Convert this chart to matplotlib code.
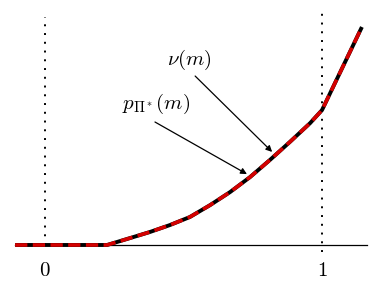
import numpy as np
import matplotlib.pyplot as plt

plt.rcParams['mathtext.fontset'] = 'cm'

# curve (x in units of m, same scale on y)
m = [-0.108, 0.224, 0.307, 0.379, 0.451, 0.523, 0.596, 0.668, 0.740,
     0.812, 0.884, 0.957, 1.0, 1.144]
v = [0.0, 0.0, 0.025, 0.047, 0.072, 0.101, 0.144, 0.191, 0.245,
     0.307, 0.372, 0.440, 0.487, 0.787]
tick_pos = [0, 1]
tick_lab = ['$0$', '$1$']

fig = plt.figure(figsize=(3.74, 2.99), dpi=100)
ax = fig.add_axes([0, 0, 1, 1])
ax.set_xlim(-0.1625, 1.1877)
ax.set_ylim(-0.195, 0.8845)
ax.axis('off')

# axis line
ax.plot([-0.108, 1.162], [0, 0], color='black', lw=0.9)

# dotted verticals
ax.plot([0, 0], [0, 0.823], color='black', lw=1.4, linestyle=(0, (1, 3.5)))
ax.plot([1, 1], [-0.025, 0.856], color='black', lw=1.4, linestyle=(0, (1, 3.5)))

ax.plot(m, v, color='black', lw=2.8, solid_capstyle='butt', solid_joinstyle='round')
ax.plot(m, v, color='#d40000', lw=2.6, linestyle=(0, (3.4, 1.5)))

for p, s in zip(tick_pos, tick_lab):
    ax.text(p, -0.092, s, ha='center', va='center', fontsize=15)

ax.text(0.522, 0.668, r'$\nu(m)$', ha='center', va='center', fontsize=15)
ax.text(0.401, 0.509, r'$p_{\Pi^*}(m)$', ha='center', va='center', fontsize=15)

arrow = dict(arrowstyle='-|>', color='black', lw=0.9, mutation_scale=9,
             shrinkA=0, shrinkB=0)
ax.annotate('', xy=(0.820, 0.336), xytext=(0.542, 0.610), arrowprops=arrow)
ax.annotate('', xy=(0.729, 0.256), xytext=(0.397, 0.444), arrowprops=arrow)

fig.savefig('out.png', dpi=100)
